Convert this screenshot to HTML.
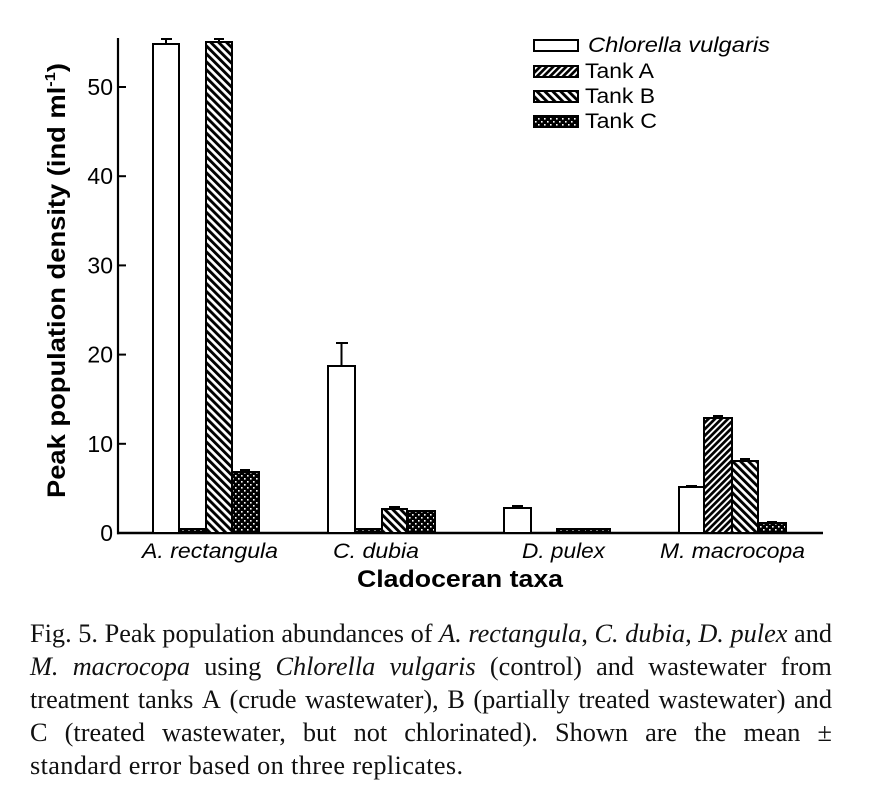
<!DOCTYPE html>
<html>
<head>
<meta charset="utf-8">
<style>
  html, body { margin:0; padding:0; background:#fff; }
  #wrap { position:relative; width:888px; height:802px; overflow:hidden; background:#fff; }
  svg { position:absolute; left:0; top:0; }
  .cap { position:absolute; left:30px; width:802px; font-family:"Liberation Serif", serif; font-size:26.3px; line-height:33px; color:#111; white-space:nowrap; }
  .f { display:flex; justify-content:space-between; }
  .f span { white-space:nowrap; }
  i { font-style:italic; }
</style>
</head>
<body>
<div id="wrap">
<svg width="888" height="802" viewBox="0 0 888 802" xmlns="http://www.w3.org/2000/svg">
  <defs>
    <pattern id="pA" patternUnits="userSpaceOnUse" width="4.6" height="4.6" patternTransform="rotate(45)">
      <rect x="0" y="0" width="4.6" height="4.6" fill="#fff"/>
      <rect x="0" y="0" width="2.7" height="4.6" fill="#000"/>
    </pattern>
    <pattern id="pB" patternUnits="userSpaceOnUse" width="5.6" height="5.6" patternTransform="rotate(-45)">
      <rect x="0" y="0" width="5.6" height="5.6" fill="#fff"/>
      <rect x="0" y="0" width="2.9" height="5.6" fill="#000"/>
    </pattern>
    <pattern id="pC" patternUnits="userSpaceOnUse" width="6" height="6">
      <rect x="0" y="0" width="6" height="6" fill="#000"/>
      <rect x="1" y="1" width="1.6" height="1.6" fill="#fff"/>
      <rect x="4" y="4" width="1.6" height="1.6" fill="#fff"/>
    </pattern>
    <pattern id="pT" patternUnits="userSpaceOnUse" width="6" height="6">
      <rect x="0" y="0" width="6" height="6" fill="#000"/>
      <rect x="2" y="1" width="2" height="1.5" fill="#fff"/>
    </pattern>
  </defs>

  <!-- Axes -->
  <line x1="118" y1="38" x2="118" y2="534.2" stroke="#000" stroke-width="2.2"/>
  <line x1="117" y1="533" x2="823" y2="533" stroke="#000" stroke-width="2.4"/>
  <!-- ticks -->
  <g stroke="#000" stroke-width="2">
    <line x1="118" y1="87" x2="126" y2="87"/>
    <line x1="118" y1="176.2" x2="126" y2="176.2"/>
    <line x1="118" y1="265.4" x2="126" y2="265.4"/>
    <line x1="118" y1="354.6" x2="126" y2="354.6"/>
    <line x1="118" y1="443.8" x2="126" y2="443.8"/>
  </g>
  <g font-family="Liberation Sans, sans-serif" font-size="23" text-anchor="end" fill="#000">
    <text x="113" y="95">50</text>
    <text x="113" y="184.2">40</text>
    <text x="113" y="273.4">30</text>
    <text x="113" y="362.6">20</text>
    <text x="113" y="451.8">10</text>
    <text x="113" y="541">0</text>
  </g>

  <!-- Y label -->
  <text transform="translate(65,280.5) rotate(-90)" text-anchor="middle" font-family="Liberation Sans, sans-serif" font-weight="bold" font-size="25" textLength="435" lengthAdjust="spacingAndGlyphs">Peak population density (ind ml<tspan font-size="15" dy="-10">-1</tspan><tspan dy="10">)</tspan></text>

  <!-- Bars -->
  <g stroke="#000" stroke-width="2">
    <!-- A. rectangula -->
    <rect x="153" y="44" width="26" height="489" fill="#fff"/>
    <rect x="179" y="529" width="27" height="4" fill="url(#pT)"/>
    <rect x="206" y="42" width="26" height="491" fill="url(#pB)"/>
    <rect x="232" y="472" width="27" height="61" fill="url(#pC)"/>
    <!-- C. dubia -->
    <rect x="328" y="366" width="27" height="167" fill="#fff"/>
    <rect x="355" y="529" width="27" height="4" fill="url(#pT)"/>
    <rect x="382" y="509" width="25" height="24" fill="url(#pB)"/>
    <rect x="407" y="511" width="28" height="22" fill="url(#pC)"/>
    <!-- D. pulex -->
    <rect x="504" y="508" width="27" height="25" fill="#fff"/>
    <rect x="557" y="529" width="27" height="4" fill="url(#pT)"/>
    <rect x="584" y="529" width="26" height="4" fill="url(#pT)"/>
    <!-- M. macrocopa -->
    <rect x="679" y="487" width="25" height="46" fill="#fff"/>
    <rect x="704" y="418" width="28" height="115" fill="url(#pA)"/>
    <rect x="732" y="461" width="26" height="72" fill="url(#pB)"/>
    <rect x="758" y="523" width="28" height="10" fill="url(#pC)"/>
  </g>

  <!-- Error bars -->
  <g stroke="#000" stroke-width="2" fill="none">
    <line x1="166" y1="44" x2="166" y2="39"/><line x1="161" y1="39" x2="172" y2="39"/>
    <line x1="219" y1="42" x2="219" y2="39"/><line x1="214" y1="39" x2="224" y2="39"/>
    <line x1="245" y1="472" x2="245" y2="470"/><line x1="240" y1="470" x2="250" y2="470"/>
    <line x1="341.5" y1="366" x2="341.5" y2="343"/><line x1="336" y1="343" x2="348" y2="343"/>
    <line x1="394.5" y1="509" x2="394.5" y2="507"/><line x1="389" y1="507" x2="400" y2="507"/>
    <line x1="517.5" y1="508" x2="517.5" y2="506"/><line x1="512" y1="506" x2="523" y2="506"/>
    <line x1="691.5" y1="487" x2="691.5" y2="486"/><line x1="686" y1="486" x2="697" y2="486"/>
    <line x1="718" y1="418" x2="718" y2="416"/><line x1="713" y1="416" x2="723" y2="416"/>
    <line x1="745" y1="461" x2="745" y2="459"/><line x1="740" y1="459" x2="750" y2="459"/>
    <line x1="772" y1="523" x2="772" y2="522"/><line x1="767" y1="522" x2="777" y2="522"/>
  </g>

  <!-- Category labels -->
  <g font-family="Liberation Sans, sans-serif" font-style="italic" font-size="21" fill="#000">
    <text x="142" y="558" textLength="136" lengthAdjust="spacingAndGlyphs">A. rectangula</text>
    <text x="333" y="558" textLength="86" lengthAdjust="spacingAndGlyphs">C. dubia</text>
    <text x="522" y="558" textLength="83" lengthAdjust="spacingAndGlyphs">D. pulex</text>
    <text x="660" y="558" textLength="145" lengthAdjust="spacingAndGlyphs">M. macrocopa</text>
  </g>
  <text x="357" y="587" font-family="Liberation Sans, sans-serif" font-weight="bold" font-size="24" textLength="206" lengthAdjust="spacingAndGlyphs">Cladoceran taxa</text>

  <!-- Legend -->
  <g stroke="#000" stroke-width="2">
    <rect x="534" y="40" width="44" height="11" fill="#fff"/>
    <rect x="534" y="66" width="44" height="11" fill="url(#pA)"/>
    <rect x="534" y="91" width="44" height="11" fill="url(#pB)"/>
    <rect x="534" y="116" width="44" height="11" fill="url(#pC)"/>
  </g>
  <g font-family="Liberation Sans, sans-serif" font-size="21" fill="#000">
    <text x="588" y="52" font-style="italic" textLength="182" lengthAdjust="spacingAndGlyphs">Chlorella vulgaris</text>
    <text x="585" y="78" textLength="69" lengthAdjust="spacingAndGlyphs">Tank A</text>
    <text x="585" y="103" textLength="70" lengthAdjust="spacingAndGlyphs">Tank B</text>
    <text x="585" y="128" textLength="72" lengthAdjust="spacingAndGlyphs">Tank C</text>
  </g>
</svg>

<div class="cap f" style="top:617px;"><span>Fig.</span><span>5.</span><span>Peak</span><span>population</span><span>abundances</span><span>of</span><span><i>A.</i></span><span><i>rectangula</i>,</span><span><i>C.</i></span><span><i>dubia</i>,</span><span><i>D.</i></span><span><i>pulex</i></span><span>and</span></div>
<div class="cap f" style="top:650px;"><span><i>M.</i></span><span><i>macrocopa</i></span><span>using</span><span><i>Chlorella</i></span><span><i>vulgaris</i></span><span>(control)</span><span>and</span><span>wastewater</span><span>from</span></div>
<div class="cap f" style="top:683px;"><span>treatment</span><span>tanks</span><span>A</span><span>(crude</span><span>wastewater),</span><span>B</span><span>(partially</span><span>treated</span><span>wastewater)</span><span>and</span></div>
<div class="cap f" style="top:716px;"><span>C</span><span>(treated</span><span>wastewater,</span><span>but</span><span>not</span><span>chlorinated).</span><span>Shown</span><span>are</span><span>the</span><span>mean</span><span>±</span></div>
<div class="cap" style="top:749px; letter-spacing:0.35px;">standard error based on three replicates.</div>
</div>
</body>
</html>
